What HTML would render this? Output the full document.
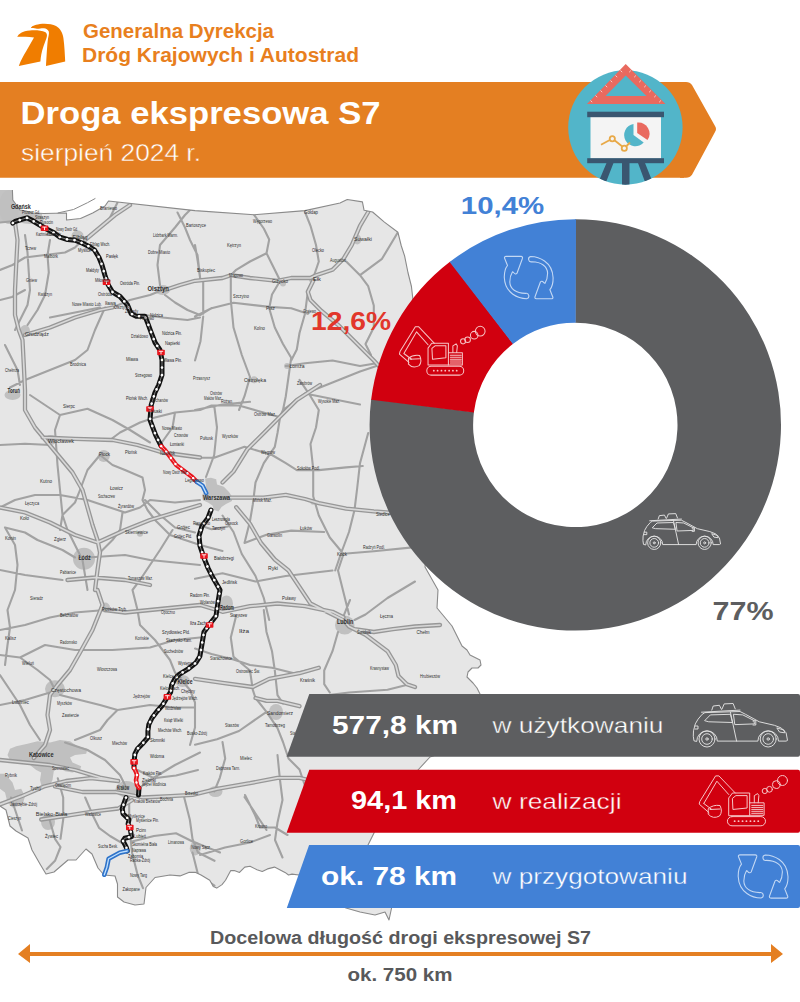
<!DOCTYPE html>
<html><head><meta charset="utf-8">
<style>
html,body{margin:0;padding:0;background:#fff;width:800px;height:1002px;overflow:hidden}
svg{display:block}
text{font-family:"Liberation Sans",sans-serif}
</style></head><body>
<svg width="800" height="1002" viewBox="0 0 800 1002">
<!-- MAP -->
<g id="map">
<defs><clipPath id="lc"><path d="M0,189.9 L12.4,189.9 L12.8,200 L15,203 L20,210 L26,211 L33,213 L44,213.5 L66.5,213 L66.5,220 L80.5,218.5 L92.7,213 L105,206 L108.5,201 L195,210.6 L254,214.75 L305,210.6 L340,203 L347.25,199.5 L362.4,201.9 L364.1,210.3 L372.6,212 L384.4,222.1 L397.9,232.25 L401.25,245.75 L404.6,255.9 L408,272.75 L411.4,286.25 L413,300 L440,425 L425,567 L438,590 L437,608 L452,626 L462,646 L467,650 L470,655 L480,660 L481,665 L478,668 L472,668 L468,672 L467,677 L473,683 L477,688 L480,694 L480,740 L430,757 L418,770 L380,810 L374,833 L368,845 L395,880 L392,906 L389,920 L385,912 L375,915 L360,912 L346,908 L320,890 L299,875 L292,874.1 L288.5,875 L285,872.4 L279.75,869.75 L274.5,867.1 L267.5,868.9 L262.25,871.5 L257,869.75 L250,866.25 L244.75,867.1 L239.5,872.4 L234.25,870.6 L230.75,870.6 L225.5,880.25 L222,884.6 L216.75,888.1 L213.25,886.4 L209.75,880.25 L201,875 L195.75,872.4 L188.75,872.4 L180,875.9 L170,875 L155,877.5 L146,887.5 L144,904 L135,905 L124,902 L117.5,897 L117.5,884 L115,876 L104,875 L98,868 L92,854 L86,849 L76,860 L68,860 L54,872 L46,874 L40,864 L32,850 L28,838 L16,831 L10,826 L6,810 L0,806 Z"/></clipPath></defs><path fill="#e6e6e6" d="M0,189.9 L12.4,189.9 L12.8,200 L15,203 L20,210 L26,211 L33,213 L44,213.5 L66.5,213 L66.5,220 L80.5,218.5 L92.7,213 L105,206 L108.5,201 L195,210.6 L254,214.75 L305,210.6 L340,203 L347.25,199.5 L362.4,201.9 L364.1,210.3 L372.6,212 L384.4,222.1 L397.9,232.25 L401.25,245.75 L404.6,255.9 L408,272.75 L411.4,286.25 L413,300 L440,425 L425,567 L438,590 L437,608 L452,626 L462,646 L467,650 L470,655 L480,660 L481,665 L478,668 L472,668 L468,672 L467,677 L473,683 L477,688 L480,694 L480,740 L430,757 L418,770 L380,810 L374,833 L368,845 L395,880 L392,906 L389,920 L385,912 L375,915 L360,912 L346,908 L320,890 L299,875 L292,874.1 L288.5,875 L285,872.4 L279.75,869.75 L274.5,867.1 L267.5,868.9 L262.25,871.5 L257,869.75 L250,866.25 L244.75,867.1 L239.5,872.4 L234.25,870.6 L230.75,870.6 L225.5,880.25 L222,884.6 L216.75,888.1 L213.25,886.4 L209.75,880.25 L201,875 L195.75,872.4 L188.75,872.4 L180,875.9 L170,875 L155,877.5 L146,887.5 L144,904 L135,905 L124,902 L117.5,897 L117.5,884 L115,876 L104,875 L98,868 L92,854 L86,849 L76,860 L68,860 L54,872 L46,874 L40,864 L32,850 L28,838 L16,831 L10,826 L6,810 L0,806 Z"/>
<g clip-path="url(#lc)"><path fill="#c3c3c3" d="M0,190 L12.4,190 L13,200 L20,210 L33,213 L42,213.5 L42,217 L30,218 L20,220 L12,224 L0,222 Z"/><g fill="#c0c0c0"><ellipse cx="9" cy="207" rx="10" ry="17"/><ellipse cx="30" cy="219" rx="14" ry="5"/><ellipse cx="77.5" cy="235.5" rx="6" ry="5"/><ellipse cx="162.5" cy="290" rx="7.5" ry="5"/><ellipse cx="25" cy="331" rx="5" ry="6"/><ellipse cx="12.5" cy="395" rx="8" ry="5"/><ellipse cx="51" cy="440" rx="6" ry="5"/><ellipse cx="103.75" cy="456" rx="6" ry="6"/><ellipse cx="84" cy="558.75" rx="11" ry="11"/><ellipse cx="140" cy="533.75" rx="3" ry="3"/><ellipse cx="226.5" cy="603.4" rx="6.5" ry="8"/><ellipse cx="313.25" cy="501.75" rx="3" ry="3"/><ellipse cx="105" cy="607.5" rx="5" ry="5"/><ellipse cx="55" cy="688.75" rx="10" ry="8.5"/><ellipse cx="182.5" cy="681" rx="7.5" ry="6"/><ellipse cx="126.5" cy="789.25" rx="11" ry="8.3"/><ellipse cx="48" cy="822" rx="7" ry="8"/><ellipse cx="195.25" cy="848.4" rx="5.5" ry="7"/><ellipse cx="344.75" cy="625" rx="9.75" ry="9.6"/><ellipse cx="276" cy="712" rx="7" ry="8"/><ellipse cx="215.5" cy="791.5" rx="7" ry="5.5"/><ellipse cx="357.25" cy="239.5" rx="4" ry="5"/><ellipse cx="311.9" cy="279.4" rx="3" ry="3"/><ellipse cx="287.1" cy="366" rx="3" ry="3"/><ellipse cx="254.1" cy="379.75" rx="3.5" ry="3.5"/><ellipse cx="283" cy="283.5" rx="3" ry="3"/><path d="M10.0,748.8 L16.2,746.2 L27.5,743.8 L37.5,741.2 L50.0,742.5 L60.0,740.0 L70.0,741.2 L77.5,746.2 L87.5,748.8 L86.2,753.8 L75.0,755.0 L70.0,757.5 L72.5,762.5 L81.2,766.2 L80.0,770.0 L72.5,772.5 L65.0,771.2 L58.8,767.5 L53.8,771.2 L52.5,780.0 L50.0,785.0 L41.2,785.0 L40.0,780.0 L41.2,772.5 L36.2,770.0 L30.0,765.0 L20.0,762.5 L10.0,760.0 L7.5,755.0 Z"/><path d="M0.0,773.8 L5.0,773.8 L12.5,782.5 L15.0,790.0 L21.2,788.8 L25.0,796.2 L22.5,805.0 L12.5,807.5 L7.5,802.5 L5.0,792.5 L0.0,788.8 Z"/><path d="M205.0,478.5 L211.0,477.8 L216.2,479.2 L217.0,484.5 L223.8,486.8 L229.0,492.0 L232.0,496.5 L232.0,501.0 L226.0,504.0 L221.5,507.0 L218.5,511.5 L214.0,510.0 L212.5,505.5 L208.0,502.5 L202.8,500.2 L202.0,495.0 L206.5,489.8 L205.8,484.5 Z"/></g>
<g fill="none" stroke-linejoin="round" stroke-linecap="round">
<path stroke="#a2a2a2" stroke-width="2.1" d="M0.0,222.5 L12.5,221.2 M25.0,235.0 L27.5,252.5 L28.8,272.5 L30.0,290.0 L27.5,305.0 L20.0,320.0 L15.0,330.0 M50.0,240.0 L47.5,255.0 L48.8,272.5 L45.0,295.0 L37.5,310.0 L27.5,325.0 M0.0,270.0 L12.5,265.0 L25.0,257.5 L45.0,255.0 L65.0,252.5 L75.0,247.5 L80.0,242.5 M107.5,222.5 L112.5,212.5 L117.5,202.5 M112.5,307.5 L130.0,300.0 L150.0,295.0 L162.5,290.0 M50.0,317.5 L75.0,312.5 L100.0,307.5 M105.0,307.5 L95.0,330.0 L87.5,350.0 L75.0,360.0 L50.0,370.0 L25.0,380.0 L10.0,387.5 M160.0,285.0 L157.5,265.0 L160.0,245.0 L175.0,227.5 L185.0,215.0 L195.0,205.0 M177.5,212.5 L185.0,227.5 L190.0,240.0 L197.5,255.0 L200.5,280.8 M165.0,295.0 L175.0,302.5 L187.5,310.0 L200.0,315.0 L211.5,308.2 L233.5,302.8 L269.2,306.9 L291.2,308.2 L307.8,313.8 M145.0,315.0 L162.5,317.5 L187.5,320.0 L200.0,317.5 M5.0,345.0 L12.5,360.0 L17.5,370.0 L20.0,385.0 M0.0,300.0 L12.0,297.0 L25.0,290.0 M305.0,212.0 L310.5,225.8 L316.0,245.0 L318.8,261.5 L313.2,278.0 M254.1,214.8 L263.8,228.5 L269.2,239.5 L266.5,253.2 L250.0,261.5 L236.2,269.8 L230.8,275.2 M266.5,253.2 L272.0,264.2 L280.2,280.8 L272.0,294.5 L269.2,308.2 L274.8,327.5 L283.0,344.0 L291.2,357.8 L288.5,377.0 L285.8,396.2 L283.0,410.0 L280.2,416.5 L277.5,433.0 L274.8,446.8 L263.8,463.2 L255.5,482.5 L252.8,504.5 L250.0,521.0 L244.5,543.0 M230.8,275.2 L230.8,300.0 L233.5,327.5 L241.8,355.0 L250.0,377.0 L244.5,396.2 L239.0,410.0 M195.0,316.5 L211.5,308.2 M307.8,291.8 L305.0,313.8 L299.5,333.0 L296.8,349.5 L291.2,360.5 M346.2,261.5 L360.0,275.2 L368.2,286.2 L373.8,305.5 L373.8,327.5 L365.5,344.0 L371.0,355.0 M360.0,275.2 L382.0,258.8 L398.5,231.2 M285.8,366.0 L305.0,363.2 L332.5,360.5 L360.0,366.0 L376.5,363.2 M283.0,410.0 L305.0,393.5 L332.5,382.5 L360.0,371.5 L376.5,366.0 M299.5,379.8 L310.5,396.2 L318.8,410.0 L316.0,427.5 L310.5,444.0 L313.2,468.8 L313.2,496.2 L318.8,515.5 L329.8,537.5 L343.5,554.0 L338.0,570.5 L343.5,592.5 L349.0,614.5 M305.0,393.5 L332.5,399.0 L360.0,404.5 M203.2,316.5 L200.5,341.2 L195.0,360.5 M195.0,410.0 L222.5,404.5 L250.0,401.8 M203.2,280.8 L203.2,313.8 M195.0,245.0 L197.8,261.5 L200.5,280.8 M0.0,445.0 L25.0,443.8 L50.0,445.0 M30.0,395.0 L60.0,415.0 L87.5,408.8 L112.5,420.0 L130.0,430.0 L150.0,442.5 M60.0,415.0 L55.0,430.0 L57.5,465.0 L60.0,490.0 L62.5,515.0 L67.5,530.0 L75.0,545.0 L82.5,560.0 L87.5,590.0 M100.0,455.0 L112.5,465.0 L125.0,470.0 L142.5,477.5 L145.0,490.0 L142.5,500.0 L147.5,510.0 L155.0,520.0 L170.0,535.0 L200.0,545.0 L222.5,551.0 M100.0,455.0 L87.5,470.0 L80.0,490.0 L75.0,502.5 L62.5,515.0 L60.0,530.0 M110.0,440.0 L120.0,432.5 L140.0,422.5 L155.0,417.5 L175.0,412.5 L200.0,410.0 L211.5,405.5 L239.0,405.5 L277.5,416.5 M175.0,412.5 L172.5,427.5 L160.0,445.0 M0.0,507.5 L15.0,500.0 L35.0,495.0 L60.0,495.0 L87.5,500.0 L125.0,512.5 L140.0,507.5 L150.0,500.0 L175.0,502.5 L200.0,500.0 M5.0,527.5 L15.0,545.0 L17.5,565.0 L15.0,590.0 L7.5,610.0 L10.0,627.5 L7.5,645.0 L5.0,665.0 M5.0,527.5 L25.0,532.5 L37.5,540.0 L62.5,550.0 L75.0,557.5 M87.5,557.5 L125.0,555.0 L150.0,560.0 L175.0,562.5 L200.0,565.0 M122.5,512.5 L120.0,530.0 L112.5,540.0 L100.0,552.5 M172.5,530.0 L160.0,550.0 L150.0,565.0 L140.0,580.0 L132.5,590.0 L137.5,610.0 L140.0,625.0 L155.0,640.0 L170.0,660.0 L175.0,672.5 L190.0,690.0 L195.0,702.5 L195.0,727.5 L190.0,745.0 M0.0,570.0 L25.0,575.0 L62.5,580.0 M145.0,500.0 L160.0,515.0 L175.0,527.5 L195.0,532.5 M0.0,630.0 L25.0,625.0 L50.0,617.5 L75.0,612.5 L105.0,610.0 M0.0,655.0 L20.0,657.5 L45.0,645.0 L75.0,650.0 L112.5,650.0 L150.0,647.5 L175.0,640.0 L200.0,637.5 M20.0,657.5 L37.5,670.0 L50.0,680.0 L55.0,690.0 M0.0,675.0 L10.0,690.0 L20.0,705.0 L30.0,725.0 L40.0,740.0 M0.0,705.0 L25.0,700.0 L50.0,692.5 M60.0,695.0 L100.0,705.0 L117.5,710.0 L150.0,705.0 L175.0,707.5 L195.0,707.5 M117.5,710.0 L107.5,720.0 L100.0,730.0 L87.5,735.0 L75.0,740.0 M65.0,742.5 L87.5,750.0 L105.0,760.0 L120.0,775.0 L125.0,785.0 M200.0,752.5 L175.0,765.0 L150.0,780.0 L140.0,787.5 M195.0,457.8 L214.2,457.8 L244.5,446.8 L272.0,455.0 L285.8,463.2 L296.8,470.1 L318.8,470.1 L346.2,467.4 L362.8,466.0 M214.2,405.5 L217.0,427.5 L214.2,455.0 L206.0,477.0 M368.2,433.0 L360.0,463.2 L357.2,488.0 L354.5,510.0 L349.0,532.0 L340.8,554.0 L335.2,570.5 M244.5,543.0 L266.5,534.8 L291.2,530.6 L324.2,532.0 M340.8,554.0 L373.8,551.2 L415.0,547.1 M195.0,578.8 L222.5,573.2 L255.5,581.5 L285.8,576.0 L332.5,570.5 M222.5,515.5 L233.5,532.0 L241.8,554.0 L255.5,576.0 L263.8,598.0 L269.2,620.0 M415.0,581.5 L387.5,598.0 L365.5,614.5 L354.5,620.0 M195.0,523.8 L211.5,529.2 L228.0,526.5 M338.0,632.0 L332.5,651.2 L324.2,670.5 L324.2,684.2 L329.8,692.5 M263.8,610.0 L266.5,632.0 L272.0,651.2 L274.8,670.5 L277.5,695.2 L283.0,703.5 M236.2,615.5 L230.8,637.5 L233.5,656.8 L250.0,670.5 L252.8,689.8 L255.5,698.0 L266.5,711.8 M195.0,648.5 L211.5,654.0 L233.5,659.5 L250.0,665.0 L272.0,667.8 L294.0,673.2 L318.8,667.8 M266.5,711.8 L277.5,728.2 L283.0,742.0 L288.5,758.5 L299.5,769.5 L305.0,786.0 M266.5,711.8 L239.0,731.0 L217.0,739.2 L195.0,744.8 M222.5,742.0 L225.2,758.5 L219.8,777.8 L214.2,791.5 M244.5,797.0 L255.5,813.5 L266.5,830.0 M327.0,695.2 L349.0,692.5 L387.5,689.8 L409.5,684.2 M343.5,616.2 L350.0,600.0 M11.0,797.5 L16.5,814.0 L22.0,830.5 M49.5,819.5 L55.0,838.8 L60.5,847.0 L55.0,860.8 L46.8,869.0 M85.2,797.5 L93.5,816.8 L99.0,827.8 L110.0,836.0 L123.8,844.2 M129.2,797.5 L129.2,825.0 L132.0,852.5 L137.5,874.5 L143.0,888.2 M132.0,841.5 L154.0,836.0 L176.0,833.2 L192.5,841.5 L220.0,852.5 M184.2,797.5 L189.8,819.5 L192.5,838.8 L198.0,852.5 L214.5,860.8 M192.5,852.5 L198.0,874.5 L214.5,885.5 M137.5,770.0 L154.0,778.2 L176.0,775.5 L198.0,770.0 M57.8,778.2 L63.2,797.5 L63.2,819.5 L60.5,838.8 M245.0,795.0 L255.0,815.0 L260.0,827.5 L275.0,827.5 L287.5,835.0 M200.0,855.0 L225.0,847.5 L250.0,842.5 L270.0,835.0 M277.5,755.0 L280.0,780.0 L282.5,800.0 L277.5,822.5 L275.0,840.0 L282.5,857.5"/>
<path stroke="#979797" stroke-width="4.3" d="M15.0,222.5 L17.5,240.0 L16.2,265.0 L15.0,290.0 L15.0,315.0 L18.8,330.0 L22.5,340.0 L23.8,365.0 L25.0,390.0 L25.0,410.0 L35.0,427.5 L47.5,442.5 L60.0,457.5 L72.5,472.5 L82.5,490.0 L87.5,507.5 L92.5,525.0 L97.5,540.0 L100.0,552.5 L97.5,570.0 L95.0,590.0 L97.5,590.0 L102.5,605.0 L92.5,630.0 L80.0,652.5 L70.0,670.0 L57.5,685.0 L50.0,695.0 L47.5,715.0 L50.0,730.0 L45.0,745.0 L33.8,758.0 M85.0,240.0 L100.0,227.5 L115.0,215.0 L130.0,205.0 M25.0,335.0 L50.0,327.5 L75.0,317.5 L100.0,310.0 L112.5,307.5 M165.0,290.0 L180.0,285.0 L195.0,280.8 L222.5,278.0 L230.8,275.2 L250.0,278.0 L277.5,280.8 L291.2,278.0 L310.5,278.0 L316.0,275.2 M316.0,275.2 L332.5,269.8 L343.5,258.8 L351.8,245.0 L360.0,225.8 L368.2,212.0 M313.2,280.8 L307.8,291.8 L310.5,300.0 L321.5,311.0 L338.0,324.8 L351.8,338.5 L365.5,352.2 L373.8,360.5 L390.0,378.0 M0.0,507.5 L25.0,512.5 L50.0,522.5 L75.0,535.0 L97.5,542.5 L125.0,530.0 L150.0,520.0 L175.0,512.5 L200.0,505.0 M230.8,497.6 L263.8,497.6 L285.8,494.9 L305.0,499.0 L318.8,503.1 L346.2,508.6 L373.8,511.4 L393.0,512.8 M42.5,437.5 L75.0,438.8 L112.5,440.0 L137.5,445.0 L162.5,452.5 L200.0,457.5 M222.5,482.5 L233.5,471.5 L247.2,449.5 L263.8,433.0 L280.2,416.5 L296.8,400.0 L320.0,385.0 M236.2,507.2 L250.0,523.8 L261.0,543.0 L274.8,559.5 L288.5,570.5 L299.5,587.0 L310.5,603.5 L327.0,611.8 L343.5,620.0 L349.0,626.5 L365.5,634.8 L387.5,651.2 L395.8,665.0 L398.5,676.0 L406.8,684.2 L415.0,687.0 M354.5,629.2 L373.8,632.0 L393.0,629.2 L415.0,626.5 L440.0,625.0 M222.5,611.8 L250.0,606.2 L277.5,603.5 L305.0,606.2 L332.5,611.8 L343.5,617.2 M105.0,610.0 L125.0,612.5 L150.0,610.0 L175.0,607.5 L200.0,605.0 L222.5,611.8 M195.0,678.8 L222.5,682.9 L252.8,687.0 L269.2,678.8 L299.5,673.2 L318.8,667.8 M255.5,698.0 L266.5,700.8 L277.5,700.8 L299.5,706.2 M0.0,760.0 L25.0,762.5 L50.0,765.0 L75.0,770.0 L100.0,777.5 L118.2,781.0 M55.0,786.5 L82.5,792.0 L115.5,792.0 L143.0,797.5 L170.5,796.1 L192.5,794.8 L217.0,788.8 L250.0,783.2 L277.5,777.8 L299.5,777.8 L310.5,780.5 M41.2,819.5 L68.8,815.4 L96.2,811.2 L118.2,808.5 L132.0,800.2 M67.5,580.0 L95.0,577.5 L125.0,580.0 L150.0,585.0 M0.0,804.4 L22.0,796.1 L44.0,786.5 L66.0,781.0 L90.8,778.2 L118.2,781.0"/>
<path stroke="#d8d8d8" stroke-width="1.7" d="M15.0,222.5 L17.5,240.0 L16.2,265.0 L15.0,290.0 L15.0,315.0 L18.8,330.0 L22.5,340.0 L23.8,365.0 L25.0,390.0 L25.0,410.0 L35.0,427.5 L47.5,442.5 L60.0,457.5 L72.5,472.5 L82.5,490.0 L87.5,507.5 L92.5,525.0 L97.5,540.0 L100.0,552.5 L97.5,570.0 L95.0,590.0 L97.5,590.0 L102.5,605.0 L92.5,630.0 L80.0,652.5 L70.0,670.0 L57.5,685.0 L50.0,695.0 L47.5,715.0 L50.0,730.0 L45.0,745.0 L33.8,758.0 M85.0,240.0 L100.0,227.5 L115.0,215.0 L130.0,205.0 M25.0,335.0 L50.0,327.5 L75.0,317.5 L100.0,310.0 L112.5,307.5 M165.0,290.0 L180.0,285.0 L195.0,280.8 L222.5,278.0 L230.8,275.2 L250.0,278.0 L277.5,280.8 L291.2,278.0 L310.5,278.0 L316.0,275.2 M316.0,275.2 L332.5,269.8 L343.5,258.8 L351.8,245.0 L360.0,225.8 L368.2,212.0 M313.2,280.8 L307.8,291.8 L310.5,300.0 L321.5,311.0 L338.0,324.8 L351.8,338.5 L365.5,352.2 L373.8,360.5 L390.0,378.0 M0.0,507.5 L25.0,512.5 L50.0,522.5 L75.0,535.0 L97.5,542.5 L125.0,530.0 L150.0,520.0 L175.0,512.5 L200.0,505.0 M230.8,497.6 L263.8,497.6 L285.8,494.9 L305.0,499.0 L318.8,503.1 L346.2,508.6 L373.8,511.4 L393.0,512.8 M42.5,437.5 L75.0,438.8 L112.5,440.0 L137.5,445.0 L162.5,452.5 L200.0,457.5 M222.5,482.5 L233.5,471.5 L247.2,449.5 L263.8,433.0 L280.2,416.5 L296.8,400.0 L320.0,385.0 M236.2,507.2 L250.0,523.8 L261.0,543.0 L274.8,559.5 L288.5,570.5 L299.5,587.0 L310.5,603.5 L327.0,611.8 L343.5,620.0 L349.0,626.5 L365.5,634.8 L387.5,651.2 L395.8,665.0 L398.5,676.0 L406.8,684.2 L415.0,687.0 M354.5,629.2 L373.8,632.0 L393.0,629.2 L415.0,626.5 L440.0,625.0 M222.5,611.8 L250.0,606.2 L277.5,603.5 L305.0,606.2 L332.5,611.8 L343.5,617.2 M105.0,610.0 L125.0,612.5 L150.0,610.0 L175.0,607.5 L200.0,605.0 L222.5,611.8 M195.0,678.8 L222.5,682.9 L252.8,687.0 L269.2,678.8 L299.5,673.2 L318.8,667.8 M255.5,698.0 L266.5,700.8 L277.5,700.8 L299.5,706.2 M0.0,760.0 L25.0,762.5 L50.0,765.0 L75.0,770.0 L100.0,777.5 L118.2,781.0 M55.0,786.5 L82.5,792.0 L115.5,792.0 L143.0,797.5 L170.5,796.1 L192.5,794.8 L217.0,788.8 L250.0,783.2 L277.5,777.8 L299.5,777.8 L310.5,780.5 M41.2,819.5 L68.8,815.4 L96.2,811.2 L118.2,808.5 L132.0,800.2 M67.5,580.0 L95.0,577.5 L125.0,580.0 L150.0,585.0 M0.0,804.4 L22.0,796.1 L44.0,786.5 L66.0,781.0 L90.8,778.2 L118.2,781.0"/>
</g></g>
<path fill="none" stroke="#8a8a8a" stroke-width="1.1" stroke-linejoin="round" d="M12.4,189.9 L12.8,200 L15,203 L20,210 L26,211 L33,213 L44,213.5 L66.5,213 L66.5,220 L80.5,218.5 L92.7,213 L105,206 L108.5,201 L195,210.6 L254,214.75 L305,210.6 L340,203 L347.25,199.5 L362.4,201.9 L364.1,210.3 L372.6,212 L384.4,222.1 L397.9,232.25 L401.25,245.75 L404.6,255.9 L408,272.75 L411.4,286.25 L413,300 L440,425 L425,567 L438,590 L437,608 L452,626 L462,646 L467,650 L470,655 L480,660 L481,665 L478,668 L472,668 L468,672 L467,677 L473,683 L477,688 L480,694 L480,740 L430,757 L418,770 L380,810 L374,833 L368,845 L395,880 L392,906 L389,920 L385,912 L375,915 L360,912 L346,908 L320,890 L299,875 L292,874.1 L288.5,875 L285,872.4 L279.75,869.75 L274.5,867.1 L267.5,868.9 L262.25,871.5 L257,869.75 L250,866.25 L244.75,867.1 L239.5,872.4 L234.25,870.6 L230.75,870.6 L225.5,880.25 L222,884.6 L216.75,888.1 L213.25,886.4 L209.75,880.25 L201,875 L195.75,872.4 L188.75,872.4 L180,875.9 L170,875 L155,877.5 L146,887.5 L144,904 L135,905 L124,902 L117.5,897 L117.5,884 L115,876 L104,875 L98,868 L92,854 L86,849 L76,860 L68,860 L54,872 L46,874 L40,864 L32,850 L28,838 L16,831 L10,826 L6,810 L0,806"/><path fill="none" stroke="#8a8a8a" stroke-width="1" d="M57.7,213 L73.5,209.5 L87.5,202.7 L95.4,198.4"/>
<g fill="none" stroke-linejoin="round" stroke-linecap="round">
<path stroke="#111" stroke-width="5" d="M12.8,223.0 L15.0,221.5 L22.5,219.2 L27.0,217.8 L31.5,220.0 L39.0,224.5 L46.5,229.0 L54.0,232.8 L60.0,237.2 L67.5,239.5 L75.0,240.2 L82.5,243.2 L90.0,247.0 L94.5,250.0 L99.0,257.5 L102.0,265.0 L105.0,275.5 L108.0,284.5 L112.5,292.0 L120.0,296.5 L127.5,305.0 L131.2,313.7 L136.2,316.2 L145.0,316.2 L147.5,322.5 L151.2,332.5 L155.0,342.5 L160.0,350.0 L162.0,360.0 L162.0,375.0 L158.7,385.0 L155.0,392.5 L151.2,405.0 L150.0,420.0 L155.6,435.0 L161.2,446.2 M211.0,510.0 L208.0,518.0 L202.0,526.0 L199.0,536.0 L200.0,546.0 L204.0,558.0 L208.0,568.0 L212.0,576.0 L220.0,590.0 L218.0,602.0 L216.0,616.0 L209.0,625.0 L204.0,632.0 L202.0,644.0 L199.9,656.2 L195.9,662.8 L187.8,669.2 L179.6,674.1 L174.8,679.0 L171.5,685.5 L170.7,692.0 L167.4,696.9 L162.6,705.0 L156.9,711.5 L152.0,718.0 L148.8,724.5 L147.9,731.0 L147.9,737.5 L142.2,744.0 L137.4,748.9 L134.9,753.8 L134.1,761.9 L134.0,768.0 M139.0,788.0 L138.5,795.0 M126.0,797.5 L123.9,803.5 L122.2,808.6 L123.0,813.7 L126.4,817.1 L129.0,819.6 L128.1,823.9 L129.8,827.3 L130.7,831.5 L131.5,836.6 L124.7,838.3 L123.0,840.8 L124.7,844.2 L126.4,847.6 L127.3,851.0"/>
<path stroke="#8a8a8a" stroke-width="0.9" d="M12.8,223.0 L15.0,221.5 L22.5,219.2 L27.0,217.8 L31.5,220.0 L39.0,224.5 L46.5,229.0 L54.0,232.8 L60.0,237.2 L67.5,239.5 L75.0,240.2 L82.5,243.2 L90.0,247.0 L94.5,250.0 L99.0,257.5 L102.0,265.0 L105.0,275.5 L108.0,284.5 L112.5,292.0 L120.0,296.5 L127.5,305.0 L131.2,313.7 L136.2,316.2 L145.0,316.2 L147.5,322.5 L151.2,332.5 L155.0,342.5 L160.0,350.0 L162.0,360.0 L162.0,375.0 L158.7,385.0 L155.0,392.5 L151.2,405.0 L150.0,420.0 L155.6,435.0 L161.2,446.2 M211.0,510.0 L208.0,518.0 L202.0,526.0 L199.0,536.0 L200.0,546.0 L204.0,558.0 L208.0,568.0 L212.0,576.0 L220.0,590.0 L218.0,602.0 L216.0,616.0 L209.0,625.0 L204.0,632.0 L202.0,644.0 L199.9,656.2 L195.9,662.8 L187.8,669.2 L179.6,674.1 L174.8,679.0 L171.5,685.5 L170.7,692.0 L167.4,696.9 L162.6,705.0 L156.9,711.5 L152.0,718.0 L148.8,724.5 L147.9,731.0 L147.9,737.5 L142.2,744.0 L137.4,748.9 L134.9,753.8 L134.1,761.9 L134.0,768.0 M139.0,788.0 L138.5,795.0 M126.0,797.5 L123.9,803.5 L122.2,808.6 L123.0,813.7 L126.4,817.1 L129.0,819.6 L128.1,823.9 L129.8,827.3 L130.7,831.5 L131.5,836.6 L124.7,838.3 L123.0,840.8 L124.7,844.2 L126.4,847.6 L127.3,851.0"/>
<path stroke="#fff" stroke-width="2.6" stroke-dasharray="0.1 7.5" d="M12.8,223.0 L15.0,221.5 L22.5,219.2 L27.0,217.8 L31.5,220.0 L39.0,224.5 L46.5,229.0 L54.0,232.8 L60.0,237.2 L67.5,239.5 L75.0,240.2 L82.5,243.2 L90.0,247.0 L94.5,250.0 L99.0,257.5 L102.0,265.0 L105.0,275.5 L108.0,284.5 L112.5,292.0 L120.0,296.5 L127.5,305.0 L131.2,313.7 L136.2,316.2 L145.0,316.2 L147.5,322.5 L151.2,332.5 L155.0,342.5 L160.0,350.0 L162.0,360.0 L162.0,375.0 L158.7,385.0 L155.0,392.5 L151.2,405.0 L150.0,420.0 L155.6,435.0 L161.2,446.2 M211.0,510.0 L208.0,518.0 L202.0,526.0 L199.0,536.0 L200.0,546.0 L204.0,558.0 L208.0,568.0 L212.0,576.0 L220.0,590.0 L218.0,602.0 L216.0,616.0 L209.0,625.0 L204.0,632.0 L202.0,644.0 L199.9,656.2 L195.9,662.8 L187.8,669.2 L179.6,674.1 L174.8,679.0 L171.5,685.5 L170.7,692.0 L167.4,696.9 L162.6,705.0 L156.9,711.5 L152.0,718.0 L148.8,724.5 L147.9,731.0 L147.9,737.5 L142.2,744.0 L137.4,748.9 L134.9,753.8 L134.1,761.9 L134.0,768.0 M139.0,788.0 L138.5,795.0 M126.0,797.5 L123.9,803.5 L122.2,808.6 L123.0,813.7 L126.4,817.1 L129.0,819.6 L128.1,823.9 L129.8,827.3 L130.7,831.5 L131.5,836.6 L124.7,838.3 L123.0,840.8 L124.7,844.2 L126.4,847.6 L127.3,851.0"/>
<path stroke="#e8141c" stroke-width="4.5" d="M161.2,446.2 L165.0,450.0 L176.2,465.0 L191.2,476.2 L196.9,481.9 M134.0,768.0 L136.0,772.0 L137.0,775.0 L136.0,780.0 L137.0,785.0 L139.0,788.0"/>
<path stroke="#f7a0a0" stroke-width="0.9" d="M161.2,446.2 L165.0,450.0 L176.2,465.0 L191.2,476.2 L196.9,481.9 M134.0,768.0 L136.0,772.0 L137.0,775.0 L136.0,780.0 L137.0,785.0 L139.0,788.0"/>
<path stroke="#fff" stroke-width="2.4" stroke-dasharray="0.1 7.5" d="M161.2,446.2 L165.0,450.0 L176.2,465.0 L191.2,476.2 L196.9,481.9 M134.0,768.0 L136.0,772.0 L137.0,775.0 L136.0,780.0 L137.0,785.0 L139.0,788.0"/>
<path stroke="#2f73c9" stroke-width="4.5" d="M196.9,481.9 L202.5,485.6 L206.2,493.1 M127.3,851.0 L119.6,852.7 L108.6,858.7 L106.9,867.2 L104.3,874.8"/>
<path stroke="#bfe0ff" stroke-width="1.3" d="M196.9,481.9 L202.5,485.6 L206.2,493.1 M127.3,851.0 L119.6,852.7 L108.6,858.7 L106.9,867.2 L104.3,874.8"/>
</g>
<g fill="#e8141c"><rect x="40.7" y="225.5" width="7.6" height="5.6" rx="0.8"/><path d="M42.3,227.10000000000002 h4.4 M44.5,227.10000000000002 v3" stroke="#fff" stroke-width="0.9" fill="none"/><rect x="102.7" y="279.5" width="7.6" height="5.6" rx="0.8"/><path d="M104.3,281.1 h4.4 M106.5,281.1 v3" stroke="#fff" stroke-width="0.9" fill="none"/><rect x="157.2" y="349.7" width="7.6" height="5.6" rx="0.8"/><path d="M158.8,351.3 h4.4 M161,351.3 v3" stroke="#fff" stroke-width="0.9" fill="none"/><rect x="146.2" y="406.2" width="7.6" height="5.6" rx="0.8"/><path d="M147.8,407.8 h4.4 M150,407.8 v3" stroke="#fff" stroke-width="0.9" fill="none"/><rect x="200.2" y="553.2" width="7.6" height="5.6" rx="0.8"/><path d="M201.8,554.8 h4.4 M204,554.8 v3" stroke="#fff" stroke-width="0.9" fill="none"/><rect x="205.79999999999998" y="622.2" width="7.6" height="5.6" rx="0.8"/><path d="M207.4,623.8 h4.4 M209.6,623.8 v3" stroke="#fff" stroke-width="0.9" fill="none"/><rect x="163.6" y="694.1" width="7.6" height="5.6" rx="0.8"/><path d="M165.20000000000002,695.6999999999999 h4.4 M167.4,695.6999999999999 v3" stroke="#fff" stroke-width="0.9" fill="none"/><rect x="130.29999999999998" y="759.1" width="7.6" height="5.6" rx="0.8"/><path d="M131.9,760.6999999999999 h4.4 M134.1,760.6999999999999 v3" stroke="#fff" stroke-width="0.9" fill="none"/><rect x="126.00000000000001" y="824.7" width="7.6" height="5.6" rx="0.8"/><path d="M127.60000000000001,826.3 h4.4 M129.8,826.3 v3" stroke="#fff" stroke-width="0.9" fill="none"/></g>
<g fill="#2e2e2e" font-family="Liberation Sans, sans-serif">
<text x="10.9" y="208.6" font-size="7" font-weight="bold" textLength="19.9" lengthAdjust="spacingAndGlyphs">Gdańsk</text>
<text x="72.6" y="239" font-size="6" textLength="15" lengthAdjust="spacingAndGlyphs">Elbląg</text>
<text x="147.5" y="290.5" font-size="6.5" font-weight="bold" textLength="21.25" lengthAdjust="spacingAndGlyphs">Olsztyn</text>
<text x="25" y="335.5" font-size="6" textLength="23.75" lengthAdjust="spacingAndGlyphs">Grudziądz</text>
<text x="7.5" y="393" font-size="6.5" font-weight="bold" textLength="12.5" lengthAdjust="spacingAndGlyphs">Toruń</text>
<text x="48" y="442.6" font-size="6" textLength="26" lengthAdjust="spacingAndGlyphs">Włocławek</text>
<text x="99" y="456.4" font-size="6" textLength="11" lengthAdjust="spacingAndGlyphs">Płock</text>
<text x="203" y="500" font-size="7" font-weight="bold" textLength="27" lengthAdjust="spacingAndGlyphs">Warszawa</text>
<text x="78.4" y="559.5" font-size="6.5" font-weight="bold" textLength="12.35" lengthAdjust="spacingAndGlyphs">Łódź</text>
<text x="220" y="610.4" font-size="6.5" font-weight="bold" textLength="14" lengthAdjust="spacingAndGlyphs">Radom</text>
<text x="177.4" y="683.7" font-size="6.5" font-weight="bold" textLength="15.1" lengthAdjust="spacingAndGlyphs">Kielce</text>
<text x="50.9" y="691.7" font-size="6" textLength="30.1" lengthAdjust="spacingAndGlyphs">Częstochowa</text>
<text x="28.9" y="757" font-size="6.5" font-weight="bold" textLength="24.7" lengthAdjust="spacingAndGlyphs">Katowice</text>
<text x="116.9" y="790.4" font-size="6.5" font-weight="bold" textLength="12.35" lengthAdjust="spacingAndGlyphs">Kraków</text>
<text x="35.75" y="815.7" font-size="6" textLength="31.65" lengthAdjust="spacingAndGlyphs">Bielsko-Biała</text>
<text x="191.25" y="848.75" font-size="6" textLength="18.75" lengthAdjust="spacingAndGlyphs">Nowy Sącz</text>
<text x="337" y="624.4" font-size="6.5" font-weight="bold" textLength="16.25" lengthAdjust="spacingAndGlyphs">Lublin</text>
<text x="244" y="382" font-size="6" textLength="22" lengthAdjust="spacingAndGlyphs">Ostrołęka</text>
<text x="289.4" y="367.8" font-size="6" textLength="15.1" lengthAdjust="spacingAndGlyphs">Łomża</text>
<text x="354" y="241.25" font-size="5.5" textLength="17.9" lengthAdjust="spacingAndGlyphs">Suwałki</text>
<text x="376" y="515.5" font-size="6" textLength="13.75" lengthAdjust="spacingAndGlyphs">Siedlce</text>
<text x="267" y="715.4" font-size="5.5" textLength="26" lengthAdjust="spacingAndGlyphs">Sandomierz</text>
<text x="416.6" y="634" font-size="5.5" textLength="13" lengthAdjust="spacingAndGlyphs">Chełm</text>
<text x="122.5" y="891.25" font-size="5" textLength="17.5" lengthAdjust="spacingAndGlyphs">Zakopane</text>
<text x="313" y="281" font-size="5" textLength="8" lengthAdjust="spacingAndGlyphs">Ełk</text>
<text x="272" y="283" font-size="5" textLength="16" lengthAdjust="spacingAndGlyphs">Giżycko</text>
<text x="229" y="277" font-size="5" textLength="14" lengthAdjust="spacingAndGlyphs">Mrągowo</text>
<text x="266" y="310" font-size="5" textLength="9" lengthAdjust="spacingAndGlyphs">Pisz</text>
<text x="197" y="272" font-size="5" textLength="18" lengthAdjust="spacingAndGlyphs">Biskupiec</text>
<text x="148" y="254" font-size="5" textLength="22" lengthAdjust="spacingAndGlyphs">Dobre Miasto</text>
<text x="153" y="237" font-size="5" textLength="25" lengthAdjust="spacingAndGlyphs">Lidzbark Warm.</text>
<text x="186" y="227" font-size="5" textLength="20" lengthAdjust="spacingAndGlyphs">Bartoszyce</text>
<text x="100" y="210" font-size="5" textLength="17" lengthAdjust="spacingAndGlyphs">Braniewo</text>
<text x="227" y="247" font-size="5" textLength="14" lengthAdjust="spacingAndGlyphs">Kętrzyn</text>
<text x="253" y="223" font-size="5" textLength="19" lengthAdjust="spacingAndGlyphs">Węgorzewo</text>
<text x="304" y="214" font-size="5" textLength="14" lengthAdjust="spacingAndGlyphs">Gołdap</text>
<text x="312" y="252" font-size="5" textLength="12" lengthAdjust="spacingAndGlyphs">Olecko</text>
<text x="254" y="330" font-size="5" textLength="11" lengthAdjust="spacingAndGlyphs">Kolno</text>
<text x="303" y="313" font-size="5" textLength="13" lengthAdjust="spacingAndGlyphs">Grajewo</text>
<text x="233" y="298" font-size="5" textLength="16" lengthAdjust="spacingAndGlyphs">Szczytno</text>
<text x="126" y="361" font-size="5" textLength="12" lengthAdjust="spacingAndGlyphs">Mława</text>
<text x="131" y="338" font-size="5" textLength="17" lengthAdjust="spacingAndGlyphs">Działdowo</text>
<text x="150" y="317" font-size="5" textLength="13" lengthAdjust="spacingAndGlyphs">Nidzica</text>
<text x="105" y="305" font-size="5" textLength="11" lengthAdjust="spacingAndGlyphs">Iława</text>
<text x="98" y="296" font-size="5" textLength="14" lengthAdjust="spacingAndGlyphs">Ostróda</text>
<text x="70" y="366" font-size="5" textLength="16" lengthAdjust="spacingAndGlyphs">Brodnica</text>
<text x="44" y="258" font-size="5" textLength="14" lengthAdjust="spacingAndGlyphs">Malbork</text>
<text x="25" y="250" font-size="5" textLength="11" lengthAdjust="spacingAndGlyphs">Tczew</text>
<text x="38" y="296" font-size="5" textLength="14" lengthAdjust="spacingAndGlyphs">Kwidzyn</text>
<text x="26" y="282" font-size="5" textLength="11" lengthAdjust="spacingAndGlyphs">Gniew</text>
<text x="5" y="372" font-size="5" textLength="14" lengthAdjust="spacingAndGlyphs">Chełmża</text>
<text x="72" y="306" font-size="5" textLength="30" lengthAdjust="spacingAndGlyphs">Nowe Miasto Lub.</text>
<text x="63" y="408" font-size="5" textLength="12" lengthAdjust="spacingAndGlyphs">Sierpc</text>
<text x="150" y="402" font-size="5" textLength="18" lengthAdjust="spacingAndGlyphs">Ciechanów</text>
<text x="204" y="400" font-size="5" textLength="18" lengthAdjust="spacingAndGlyphs">Maków Maz.</text>
<text x="193" y="380" font-size="5" textLength="17" lengthAdjust="spacingAndGlyphs">Przasnysz</text>
<text x="221" y="403" font-size="5" textLength="11" lengthAdjust="spacingAndGlyphs">Różan</text>
<text x="254" y="416" font-size="5" textLength="22" lengthAdjust="spacingAndGlyphs">Ostrów Maz.</text>
<text x="222" y="438" font-size="5" textLength="16" lengthAdjust="spacingAndGlyphs">Wyszków</text>
<text x="261" y="454" font-size="5" textLength="14" lengthAdjust="spacingAndGlyphs">Węgrów</text>
<text x="297" y="470" font-size="5" textLength="23" lengthAdjust="spacingAndGlyphs">Sokołów Podl.</text>
<text x="253" y="502" font-size="5" textLength="19" lengthAdjust="spacingAndGlyphs">Mińsk Maz.</text>
<text x="267" y="537" font-size="5" textLength="15" lengthAdjust="spacingAndGlyphs">Garwolin</text>
<text x="300" y="530" font-size="5" textLength="12" lengthAdjust="spacingAndGlyphs">Łuków</text>
<text x="268" y="570" font-size="5" textLength="10" lengthAdjust="spacingAndGlyphs">Ryki</text>
<text x="337" y="556" font-size="5" textLength="10" lengthAdjust="spacingAndGlyphs">Kock</text>
<text x="363" y="549" font-size="5" textLength="22" lengthAdjust="spacingAndGlyphs">Radzyń Podl.</text>
<text x="318" y="403" font-size="5" textLength="22" lengthAdjust="spacingAndGlyphs">Wysokie Maz.</text>
<text x="297" y="385" font-size="5" textLength="15" lengthAdjust="spacingAndGlyphs">Zambrów</text>
<text x="98" y="498" font-size="5" textLength="17" lengthAdjust="spacingAndGlyphs">Sochaczew</text>
<text x="118" y="508" font-size="5" textLength="16" lengthAdjust="spacingAndGlyphs">Żyrardów</text>
<text x="177" y="529" font-size="5" textLength="13" lengthAdjust="spacingAndGlyphs">Grójec</text>
<text x="125" y="534" font-size="5" textLength="23" lengthAdjust="spacingAndGlyphs">Skierniewice</text>
<text x="110" y="490" font-size="5" textLength="13" lengthAdjust="spacingAndGlyphs">Łowicz</text>
<text x="40" y="483" font-size="5" textLength="12" lengthAdjust="spacingAndGlyphs">Kutno</text>
<text x="25" y="505" font-size="5" textLength="14" lengthAdjust="spacingAndGlyphs">Łęczyca</text>
<text x="54" y="541" font-size="5" textLength="12" lengthAdjust="spacingAndGlyphs">Zgierz</text>
<text x="60" y="574" font-size="5" textLength="16" lengthAdjust="spacingAndGlyphs">Pabianice</text>
<text x="102" y="611" font-size="5" textLength="25" lengthAdjust="spacingAndGlyphs">Piotrków Tryb.</text>
<text x="60" y="617" font-size="5" textLength="18" lengthAdjust="spacingAndGlyphs">Bełchatów</text>
<text x="128" y="580" font-size="5" textLength="25" lengthAdjust="spacingAndGlyphs">Tomaszów Maz.</text>
<text x="161" y="614" font-size="5" textLength="14" lengthAdjust="spacingAndGlyphs">Opoczno</text>
<text x="135" y="640" font-size="5" textLength="14" lengthAdjust="spacingAndGlyphs">Końskie</text>
<text x="60" y="644" font-size="5" textLength="17" lengthAdjust="spacingAndGlyphs">Radomsko</text>
<text x="97" y="671" font-size="5" textLength="20" lengthAdjust="spacingAndGlyphs">Włoszczowa</text>
<text x="133" y="698" font-size="5" textLength="17" lengthAdjust="spacingAndGlyphs">Jędrzejów</text>
<text x="187" y="735" font-size="5" textLength="20" lengthAdjust="spacingAndGlyphs">Busko-Zdrój</text>
<text x="225" y="727" font-size="5" textLength="14" lengthAdjust="spacingAndGlyphs">Staszów</text>
<text x="236" y="673" font-size="5" textLength="24" lengthAdjust="spacingAndGlyphs">Ostrowiec Św.</text>
<text x="210" y="660" font-size="5" textLength="22" lengthAdjust="spacingAndGlyphs">Starachowice</text>
<text x="239" y="633" font-size="5" textLength="10" lengthAdjust="spacingAndGlyphs">Iłża</text>
<text x="300" y="682" font-size="5" textLength="15" lengthAdjust="spacingAndGlyphs">Kraśnik</text>
<text x="282" y="600" font-size="5" textLength="14" lengthAdjust="spacingAndGlyphs">Puławy</text>
<text x="62" y="717" font-size="5" textLength="17" lengthAdjust="spacingAndGlyphs">Zawiercie</text>
<text x="90" y="740" font-size="5" textLength="12" lengthAdjust="spacingAndGlyphs">Olkusz</text>
<text x="112" y="745" font-size="5" textLength="15" lengthAdjust="spacingAndGlyphs">Miechów</text>
<text x="57" y="705" font-size="5" textLength="15" lengthAdjust="spacingAndGlyphs">Myszków</text>
<text x="52" y="770" font-size="5" textLength="17" lengthAdjust="spacingAndGlyphs">Sosnowiec</text>
<text x="30" y="790" font-size="5" textLength="11" lengthAdjust="spacingAndGlyphs">Tychy</text>
<text x="55" y="787" font-size="5" textLength="16" lengthAdjust="spacingAndGlyphs">Oświęcim</text>
<text x="85" y="816" font-size="5" textLength="16" lengthAdjust="spacingAndGlyphs">Wadowice</text>
<text x="128" y="818" font-size="5" textLength="17" lengthAdjust="spacingAndGlyphs">Myślenice</text>
<text x="160" y="801" font-size="5" textLength="13" lengthAdjust="spacingAndGlyphs">Bochnia</text>
<text x="185" y="795" font-size="5" textLength="13" lengthAdjust="spacingAndGlyphs">Brzesko</text>
<text x="216" y="770" font-size="5" textLength="24" lengthAdjust="spacingAndGlyphs">Dąbrowa Tarn.</text>
<text x="168" y="844" font-size="5" textLength="16" lengthAdjust="spacingAndGlyphs">Limanowa</text>
<text x="240" y="843" font-size="5" textLength="13" lengthAdjust="spacingAndGlyphs">Gorlice</text>
<text x="255" y="828" font-size="5" textLength="12" lengthAdjust="spacingAndGlyphs">Krosno</text>
<text x="130" y="862" font-size="5" textLength="20" lengthAdjust="spacingAndGlyphs">Rabka-Zdrój</text>
<text x="130" y="877" font-size="5" textLength="17" lengthAdjust="spacingAndGlyphs">Nowy Targ</text>
<text x="98" y="848" font-size="5" textLength="20" lengthAdjust="spacingAndGlyphs">Sucha Besk.</text>
<text x="45" y="838" font-size="5" textLength="13" lengthAdjust="spacingAndGlyphs">Żywiec</text>
<text x="8" y="820" font-size="5" textLength="13" lengthAdjust="spacingAndGlyphs">Cieszyn</text>
<text x="10" y="806" font-size="5" textLength="27" lengthAdjust="spacingAndGlyphs">Jastrzębie-Zdrój</text>
<text x="5" y="777" font-size="5" textLength="12" lengthAdjust="spacingAndGlyphs">Rybnik</text>
<text x="12" y="704" font-size="5" textLength="17" lengthAdjust="spacingAndGlyphs">Lubliniec</text>
<text x="5" y="640" font-size="5" textLength="11" lengthAdjust="spacingAndGlyphs">Kalisz</text>
<text x="30" y="600" font-size="5" textLength="13" lengthAdjust="spacingAndGlyphs">Sieradz</text>
<text x="22" y="665" font-size="5" textLength="12" lengthAdjust="spacingAndGlyphs">Wieluń</text>
<text x="20" y="520" font-size="5" textLength="9" lengthAdjust="spacingAndGlyphs">Koło</text>
<text x="5" y="540" font-size="5" textLength="11" lengthAdjust="spacingAndGlyphs">Konin</text>
<text x="125" y="454" font-size="5" textLength="12" lengthAdjust="spacingAndGlyphs">Płońsk</text>
<text x="160" y="455" font-size="5" textLength="15" lengthAdjust="spacingAndGlyphs">Nasielsk</text>
<text x="200" y="440" font-size="5" textLength="13" lengthAdjust="spacingAndGlyphs">Pułtusk</text>
<text x="163" y="474" font-size="5" textLength="25" lengthAdjust="spacingAndGlyphs">Nowy Dwór Maz.</text>
<text x="185" y="482" font-size="5" textLength="19" lengthAdjust="spacingAndGlyphs">Legionowo</text>
<text x="225" y="525" font-size="5" textLength="13" lengthAdjust="spacingAndGlyphs">Otwock</text>
<text x="193" y="525" font-size="5" textLength="17" lengthAdjust="spacingAndGlyphs">Piaseczno</text>
<text x="395" y="700" font-size="5" textLength="14" lengthAdjust="spacingAndGlyphs">Zamość</text>
<text x="420" y="678" font-size="5" textLength="20" lengthAdjust="spacingAndGlyphs">Hrubieszów</text>
<text x="370" y="670" font-size="5" textLength="19" lengthAdjust="spacingAndGlyphs">Krasnystaw</text>
<text x="357" y="634" font-size="5" textLength="14" lengthAdjust="spacingAndGlyphs">Świdnik</text>
<text x="380" y="618" font-size="5" textLength="13" lengthAdjust="spacingAndGlyphs">Łęczna</text>
<text x="330" y="726" font-size="5" textLength="14" lengthAdjust="spacingAndGlyphs">Biłgoraj</text>
<text x="315" y="713" font-size="5" textLength="18" lengthAdjust="spacingAndGlyphs">Janów Lub.</text>
<text x="290" y="735" font-size="5" textLength="22" lengthAdjust="spacingAndGlyphs">Stalowa Wola</text>
<text x="265" y="727" font-size="5" textLength="20" lengthAdjust="spacingAndGlyphs">Tarnobrzeg</text>
<text x="240" y="760" font-size="5" textLength="12" lengthAdjust="spacingAndGlyphs">Mielec</text>
<text x="330" y="262" font-size="5" textLength="16" lengthAdjust="spacingAndGlyphs">Augustów</text>
<text x="210" y="395" font-size="5" textLength="12" lengthAdjust="spacingAndGlyphs">Ostrów</text>
<text x="22" y="214" font-size="4.8" fill="#1e1e1e" textLength="18" lengthAdjust="spacingAndGlyphs">Pruszcz Gd.</text>
<text x="35" y="219" font-size="4.8" fill="#1e1e1e" textLength="14" lengthAdjust="spacingAndGlyphs">Straszyn</text>
<text x="40" y="224" font-size="4.8" fill="#1e1e1e" textLength="13" lengthAdjust="spacingAndGlyphs">Rusocin</text>
<text x="47" y="236" font-size="4.8" fill="#1e1e1e" textLength="14" lengthAdjust="spacingAndGlyphs">Koszwały</text>
<text x="56" y="231" font-size="4.8" fill="#1e1e1e" textLength="22" lengthAdjust="spacingAndGlyphs">Nowy Dwór Gd.</text>
<text x="36" y="236" font-size="4.8" fill="#1e1e1e" textLength="20" lengthAdjust="spacingAndGlyphs">Kazimierzowo</text>
<text x="90" y="246" font-size="4.8" fill="#1e1e1e" textLength="20" lengthAdjust="spacingAndGlyphs">Elbląg Wsch.</text>
<text x="106" y="258" font-size="4.8" fill="#1e1e1e" textLength="12" lengthAdjust="spacingAndGlyphs">Pasłęk</text>
<text x="78" y="252" font-size="4.8" fill="#1e1e1e" textLength="13" lengthAdjust="spacingAndGlyphs">Myślice</text>
<text x="86" y="272" font-size="4.8" fill="#1e1e1e" textLength="13" lengthAdjust="spacingAndGlyphs">Małdyty</text>
<text x="95" y="282" font-size="4.8" fill="#1e1e1e" textLength="15" lengthAdjust="spacingAndGlyphs">Miłomłyn</text>
<text x="120" y="285" font-size="4.8" fill="#1e1e1e" textLength="20" lengthAdjust="spacingAndGlyphs">Ostróda Płn.</text>
<text x="114" y="309" font-size="4.8" fill="#1e1e1e" textLength="17" lengthAdjust="spacingAndGlyphs">Olsztynek</text>
<text x="125" y="313" font-size="4.8" fill="#1e1e1e" textLength="13" lengthAdjust="spacingAndGlyphs">Zawady</text>
<text x="140" y="320" font-size="4.8" fill="#1e1e1e" textLength="14" lengthAdjust="spacingAndGlyphs">Pawłowo</text>
<text x="162" y="335" font-size="4.8" fill="#1e1e1e" textLength="20" lengthAdjust="spacingAndGlyphs">Nidzica Płn.</text>
<text x="165" y="345" font-size="4.8" fill="#1e1e1e" textLength="15" lengthAdjust="spacingAndGlyphs">Napierki</text>
<text x="163" y="362" font-size="4.8" fill="#1e1e1e" textLength="19" lengthAdjust="spacingAndGlyphs">Mława Płn.</text>
<text x="135" y="377" font-size="4.8" fill="#1e1e1e" textLength="17" lengthAdjust="spacingAndGlyphs">Strzegowo</text>
<text x="126" y="400" font-size="4.8" fill="#1e1e1e" textLength="22" lengthAdjust="spacingAndGlyphs">Płońsk Wsch.</text>
<text x="148" y="413" font-size="4.8" fill="#1e1e1e" textLength="14" lengthAdjust="spacingAndGlyphs">Załuski</text>
<text x="162" y="430" font-size="4.8" fill="#1e1e1e" textLength="20" lengthAdjust="spacingAndGlyphs">Nowe Miasto</text>
<text x="174" y="437" font-size="4.8" fill="#1e1e1e" textLength="14" lengthAdjust="spacingAndGlyphs">Czosnów</text>
<text x="170" y="446" font-size="4.8" fill="#1e1e1e" textLength="14" lengthAdjust="spacingAndGlyphs">Łomianki</text>
<text x="212" y="521" font-size="4.8" fill="#1e1e1e" textLength="18" lengthAdjust="spacingAndGlyphs">Lesznowola</text>
<text x="212" y="530" font-size="4.8" fill="#1e1e1e" textLength="13" lengthAdjust="spacingAndGlyphs">Tarczyn</text>
<text x="174" y="538" font-size="4.8" fill="#1e1e1e" textLength="18" lengthAdjust="spacingAndGlyphs">Grójec Płd.</text>
<text x="214" y="560" font-size="4.8" fill="#1e1e1e" textLength="20" lengthAdjust="spacingAndGlyphs">Białobrzegi</text>
<text x="222" y="584" font-size="4.8" fill="#1e1e1e" textLength="15" lengthAdjust="spacingAndGlyphs">Jedlińsk</text>
<text x="190" y="597" font-size="4.8" fill="#1e1e1e" textLength="20" lengthAdjust="spacingAndGlyphs">Radom Płn.</text>
<text x="200" y="604" font-size="4.8" fill="#1e1e1e" textLength="15" lengthAdjust="spacingAndGlyphs">Wolanów</text>
<text x="230" y="617" font-size="4.8" fill="#1e1e1e" textLength="17" lengthAdjust="spacingAndGlyphs">Skaryszew</text>
<text x="190" y="625" font-size="4.8" fill="#1e1e1e" textLength="17" lengthAdjust="spacingAndGlyphs">Iłża Zach.</text>
<text x="162" y="634" font-size="4.8" fill="#1e1e1e" textLength="28" lengthAdjust="spacingAndGlyphs">Szydłowiec Płd.</text>
<text x="166" y="642" font-size="4.8" fill="#1e1e1e" textLength="26" lengthAdjust="spacingAndGlyphs">Skarżysko-Kam.</text>
<text x="164" y="653" font-size="4.8" fill="#1e1e1e" textLength="19" lengthAdjust="spacingAndGlyphs">Suchedniów</text>
<text x="178" y="665" font-size="4.8" fill="#1e1e1e" textLength="14" lengthAdjust="spacingAndGlyphs">Występa</text>
<text x="163" y="678" font-size="4.8" fill="#1e1e1e" textLength="19" lengthAdjust="spacingAndGlyphs">Kielce Płn.</text>
<text x="160" y="690" font-size="4.8" fill="#1e1e1e" textLength="20" lengthAdjust="spacingAndGlyphs">Kielce Zach.</text>
<text x="181" y="693" font-size="4.8" fill="#1e1e1e" textLength="14" lengthAdjust="spacingAndGlyphs">Chęciny</text>
<text x="172" y="700" font-size="4.8" fill="#1e1e1e" textLength="26" lengthAdjust="spacingAndGlyphs">Jędrzejów Wsch.</text>
<text x="165" y="710" font-size="4.8" fill="#1e1e1e" textLength="16" lengthAdjust="spacingAndGlyphs">Wodzisław</text>
<text x="164" y="722" font-size="4.8" fill="#1e1e1e" textLength="19" lengthAdjust="spacingAndGlyphs">Książ Wielki</text>
<text x="158" y="732" font-size="4.8" fill="#1e1e1e" textLength="24" lengthAdjust="spacingAndGlyphs">Miechów Wsch.</text>
<text x="150" y="742" font-size="4.8" fill="#1e1e1e" textLength="15" lengthAdjust="spacingAndGlyphs">Słomniki</text>
<text x="150" y="758" font-size="4.8" fill="#1e1e1e" textLength="14" lengthAdjust="spacingAndGlyphs">Widoma</text>
<text x="143" y="775" font-size="4.8" fill="#1e1e1e" textLength="19" lengthAdjust="spacingAndGlyphs">Kraków Płn.</text>
<text x="142" y="782" font-size="4.8" fill="#1e1e1e" textLength="14" lengthAdjust="spacingAndGlyphs">Zielonki</text>
<text x="142" y="786" font-size="4.8" fill="#1e1e1e" textLength="24" lengthAdjust="spacingAndGlyphs">Węzeł Modlnica</text>
<text x="134" y="803" font-size="4.8" fill="#1e1e1e" textLength="26" lengthAdjust="spacingAndGlyphs">Kraków Bieżanów</text>
<text x="136" y="822" font-size="4.8" fill="#1e1e1e" textLength="23" lengthAdjust="spacingAndGlyphs">Myślenice Płn.</text>
<text x="136" y="832" font-size="4.8" fill="#1e1e1e" textLength="10" lengthAdjust="spacingAndGlyphs">Pcim</text>
<text x="134" y="838" font-size="4.8" fill="#1e1e1e" textLength="12" lengthAdjust="spacingAndGlyphs">Lubień</text>
<text x="132" y="852" font-size="4.8" fill="#1e1e1e" textLength="14" lengthAdjust="spacingAndGlyphs">Naprawa</text>
<text x="132" y="846" font-size="4.8" fill="#1e1e1e" textLength="25" lengthAdjust="spacingAndGlyphs">Skomielna Biała</text>
<text x="128" y="858" font-size="4.8" fill="#1e1e1e" textLength="15" lengthAdjust="spacingAndGlyphs">Zabornia</text>
</g>
</g>
<!-- DONUT -->
<g id="donut">
<path fill="#5d5e60" d="M575.30,219.20 A205.7,205.7 0 1 1 371.22,399.12 L473.91,412.09 A102.2,102.2 0 1 0 575.30,322.70 Z"/>
<path fill="#d1000f" d="M371.13,399.83 A205.7,205.7 0 0 1 450.25,261.58 L513.17,343.75 A102.2,102.2 0 0 0 473.86,412.44 Z"/>
<path fill="#4281d6" d="M449.65,262.04 A205.7,205.7 0 0 1 576.02,219.20 L575.66,322.70 A102.2,102.2 0 0 0 512.87,343.98 Z"/>
<text x="460.8" y="213.5" font-size="24" font-weight="bold" fill="#4281d6" textLength="83.5" lengthAdjust="spacingAndGlyphs">10,4%</text>
<text x="311" y="330" font-size="25" font-weight="bold" fill="#e2372b" textLength="80" lengthAdjust="spacingAndGlyphs">12,6%</text>
<text x="712.5" y="620" font-size="25" font-weight="bold" fill="#5d5e60" textLength="61" lengthAdjust="spacingAndGlyphs">77%</text>
</g>
<!-- BARS -->
<g id="bars">
<path fill="#5d5e60" d="M309.3,694 L798,694 Q800,694 800,696 L800,754.75 Q800,756.75 798,756.75 L286.6,756.75 Z"/>
<path fill="#d1000f" d="M309.3,769.75 L798,769.75 Q800,769.75 800,771.75 L800,830.75 Q800,832.75 798,832.75 L286.6,832.75 Z"/>
<path fill="#4281d6" d="M309.1,845 L798,845 Q800,845 800,847 L800,906 Q800,908 798,908 L286.8,908 Z"/>
<text x="332" y="734" font-size="25" font-weight="bold" fill="#fff" textLength="126" lengthAdjust="spacingAndGlyphs">577,8 km</text>
<text x="492.5" y="733.3" font-size="21.3" fill="#fff" stroke="#5d5e60" stroke-width="0.35" textLength="171" lengthAdjust="spacingAndGlyphs">w użytkowaniu</text>
<text x="351" y="809" font-size="25" font-weight="bold" fill="#fff" textLength="106" lengthAdjust="spacingAndGlyphs">94,1 km</text>
<text x="492.5" y="808.5" font-size="21.3" fill="#fff" stroke="#d1000f" stroke-width="0.35" textLength="129" lengthAdjust="spacingAndGlyphs">w realizacji</text>
<text x="321" y="884.5" font-size="25" font-weight="bold" fill="#fff" textLength="136" lengthAdjust="spacingAndGlyphs">ok. 78 km</text>
<text x="492.5" y="884" font-size="21.3" fill="#fff" stroke="#4281d6" stroke-width="0.35" textLength="195" lengthAdjust="spacingAndGlyphs">w przygotowaniu</text>
</g>
<!-- HEADER -->
<rect x="0" y="82" width="684" height="95.75" fill="#e47f22"/>
<path fill="#e47f22" d="M680,82 L686,82 Q690,82 692,85 L715,126 Q717,129 715,132 L692,174.75 Q690,177.75 686,177.75 L680,177.75 Z"/>
<text x="20.5" y="124" font-size="32" font-weight="bold" fill="#fff" textLength="360" lengthAdjust="spacingAndGlyphs">Droga ekspresowa S7</text>
<text x="21" y="160.6" font-size="24.5" fill="#fff" stroke="#e47f22" stroke-width="0.45" textLength="180" lengthAdjust="spacingAndGlyphs">sierpień 2024 r.</text>
<text x="83" y="38.4" font-size="19.5" font-weight="bold" fill="#e87f1e" textLength="191" lengthAdjust="spacingAndGlyphs">Generalna Dyrekcja</text>
<text x="82" y="62.4" font-size="19.5" font-weight="bold" fill="#e87f1e" textLength="277" lengthAdjust="spacingAndGlyphs">Dróg Krajowych i Autostrad</text>
<!-- ICONS -->
<defs>
<g id="car" fill="none" stroke-linejoin="round" stroke-linecap="round">
<path d="M8.9,45.4 L8.3,41.3 L8.5,35.8 L10.3,28.9 L13.1,24.1 L17.2,19.3 L19.9,17.6 L55,16.5 L60.5,19.3 L74.3,26.8 L89.4,30.3 L96.3,33 L101.1,37.8 L102.5,45.4 L101.1,46.1 L93.5,46.1 A10.3,10.3 0 0 0 72.9,46.1 L32.3,46.1 A10.3,10.3 0 0 0 11.7,46.1 Z"/>
<circle cx="22" cy="44" r="8"/><circle cx="22" cy="44" r="5.3"/><circle cx="22" cy="44" r="1.2"/>
<circle cx="83.2" cy="44" r="8"/><circle cx="83.2" cy="44" r="5.3"/><circle cx="83.2" cy="44" r="1.2"/>
<path d="M19.9,25.4 L25.4,19.9 L45.4,19.3 L47.5,27.5 L24.1,26.8 Z M48.8,19.3 L57.8,19.9 L68.8,25.4 L69.5,28.9 L50.2,29.6 Z M45.4,17.2 L51.6,46.1 M16.5,17.2 L55,15.1 M26.8,15.1 L28.2,11 L34.4,10.3 L36.5,14.4 M37.1,13.8 L39.2,8.9 L48.1,8.5 L50.2,13.8 M92.2,33 L99,35.1 L99.7,37.8 L94.9,37.1 Z M68,26 L70.8,25.5 L70.8,30 L68,30 M10,31 L13,31 L13,34 L10,34"/>
</g>
<g id="exc" fill="none" stroke-linejoin="round" stroke-linecap="round">
<path d="M19,42.7 L9.2,34.1 L9.8,31.5 L25.6,5.9 L28.9,5.9 L45.3,23 M13.8,33.5 L26.9,11.2 L38.7,24.5 M13.8,33.5 L21.7,39.4"/>
<path d="M18.5,38.5 Q23,34.5 30,35.5 Q33,41.5 29.5,46 Q23,49.5 18.5,44.5 Z M20,39.5 L30,39"/>
<path d="M38.7,45.3 L38.7,28 L42.5,23 L59.7,23 L59.7,45.3 Z M42.7,28.2 L45.9,25.6 L57.1,25.6 L57.1,38 L43.3,39.4 Z"/>
<path d="M59.7,32.8 L74.1,32.8 L74.1,45.3 L59.7,45.3 M61.7,35.4 L72.8,35.4 M61.7,37.4 L72.8,37.4 M61.7,39.4 L72.8,39.4 M61.7,41.3 L72.8,41.3 M61.7,43.3 L72.8,43.3 M64.3,32.8 L64.3,25.6 L67.6,23.6 L68.9,25.6 L68.2,32.8"/>
<rect x="37.4" y="46.6" width="38.1" height="9.2" rx="4.6"/>
<path d="M44.6,51.2 h0.1 M48.5,51.2 h0.1 M52.5,51.2 h0.1 M56.4,51.2 h0.1 M60.4,51.2 h0.1 M64.3,51.2 h0.1 M68.2,51.2 h0.1" stroke-width="1.8"/>
<circle cx="74.8" cy="21" r="2.6"/><circle cx="79.5" cy="19.3" r="2.9"/><circle cx="86.3" cy="14.6" r="3.9"/><circle cx="92.5" cy="10.5" r="5"/>
</g>
<g id="ref" fill="none" stroke-linejoin="round">
<path d="M526.7,298.7 C519,298.5 505,294 504.3,277.5 C504.2,272 505.5,268 507.5,265.5 L504.5,258 Q504.3,256.4 506,256.4 L521,256.4 Q523,256.6 522.4,258.5 L517,273.2 Q515.5,275 513.5,272.5 L512.5,271.8 C510.5,275 509.8,279 509.8,282 C510,289 516,293.2 525.5,293.4 A2.7,2.7 0 0 1 526.7,298.7 Z"/>
<path transform="rotate(180 528.7 277.6)" d="M526.7,298.7 C519,298.5 505,294 504.3,277.5 C504.2,272 505.5,268 507.5,265.5 L504.5,258 Q504.3,256.4 506,256.4 L521,256.4 Q523,256.6 522.4,258.5 L517,273.2 Q515.5,275 513.5,272.5 L512.5,271.8 C510.5,275 509.8,279 509.8,282 C510,289 516,293.2 525.5,293.4 A2.7,2.7 0 0 1 526.7,298.7 Z"/>
</g>
</defs>
<use href="#car" transform="translate(636.1,506.6) scale(0.824)" stroke="#e2e2e2" stroke-width="1.15"/>
<use href="#car" transform="translate(685,695)" stroke="#e2e2e2" stroke-width="0.95"/>
<use href="#exc" transform="translate(390.5,321) scale(0.97)" stroke="#f7c4c6" stroke-width="1.05"/>
<use href="#exc" transform="translate(690,770)" stroke="#f7c4c6" stroke-width="1"/>
<use href="#ref" stroke="#c3d8f4" stroke-width="1.1"/>
<use href="#ref" transform="translate(763.1,876.5) scale(1.02) translate(-528.7,-277.6)" stroke="#c3d8f4" stroke-width="1.05"/>
<!-- PRESENTATION ICON -->
<g id="pres">
<circle cx="625.4" cy="127.5" r="57.2" fill="#52b5c9"/>
<path fill="#e96a5f" d="M625.7,64 L665.5,104 L587,104 Z M625.7,75.5 L605.5,96 L646.5,96 Z" fill-rule="evenodd"/>
<g stroke="#fff" stroke-width="0.8" opacity="0.85">
<path d="M590.5,100.5 L592.2,102.2 M595.5,95.5 L597.2,97.2 M600.5,90.5 L602.2,92.2 M605.5,85.5 L607.2,87.2 M610.5,80.5 L612.2,82.2 M615.5,75.5 L617.2,77.2 M620.5,70.5 L622.2,72.2"/>
<path d="M660.9,100.5 L659.2,102.2 M655.9,95.5 L654.2,97.2 M650.9,90.5 L649.2,92.2 M645.9,85.5 L644.2,87.2 M640.9,80.5 L639.2,82.2 M635.9,75.5 L634.2,77.2 M630.9,70.5 L629.2,72.2"/>
</g>
<rect x="590.5" y="117" width="70.5" height="41.5" fill="#f4f4f4"/>
<rect x="587.2" y="111.7" width="76.8" height="5.5" fill="#3a5670"/>
<rect x="587.2" y="158.2" width="76.8" height="5" fill="#3a5670"/>
<clipPath id="pc"><circle cx="625.4" cy="127.5" r="57.2"/></clipPath><path clip-path="url(#pc)" fill="#3a5670" d="M622,163 L629.5,163 L629.5,190 L622,190 Z M606.5,163 L613.5,163 L603,190 L596,188 Z M638,163 L645,163 L655,188 L648,190 Z"/>
<path fill="#52b5c9" d="M633.5,124 A11.2,11.2 0 1 0 643.7,142.5 L633.5,135 Z"/>
<path fill="#e96a5f" d="M637.2,122.5 A11.2,11.2 0 0 1 647.5,140 L637.2,133 Z"/>
<g fill="none" stroke="#e8a948" stroke-width="1.8">
<path d="M601,144.8 L609.8,140 M614.8,140.5 L622.3,146.5 M626.5,146 L630,142.5"/>
<circle cx="612.3" cy="138.8" r="2.6"/>
<circle cx="624.3" cy="148.3" r="2.6"/>
</g>
</g>
<!-- LOGO -->
<g id="logo" fill="#f07d00">
<path d="M17.2,36.8 C19,33.5 22,31.2 30,30.4 C36,30 42,30.5 45,32 C47.5,33.5 47.2,36 46.5,38 L43.6,46 C41.5,52 40.8,57 40.4,61.6 L18.8,66 C21,60 24,55 26,51.6 L34,37.4 C28,37 22,37 17.2,36.8 Z"/>
<path d="M30.8,28 C32,26 34,25 40,24 C46,23.3 52,24 56,26 C60,28.5 62.5,32 63.4,38 C64.5,46 64.8,54 65.2,61.6 L46,66 C46.5,58 47,48 47.6,42 C48,37 49.5,34 48.8,31.5 C48,29.5 46,28.4 44,28.2 C41,28 38,29.2 36,28.5 C34,28 32,28 30.8,28 Z"/>
</g>
<!-- ARROW -->
<rect x="28" y="952" width="745" height="4" fill="#e47f22"/>
<path fill="#e47f22" d="M18,954 L30,944 L30,963 Z M783,954 L771,944 L771,963 Z"/>
<text x="210" y="944" font-size="18" font-weight="bold" fill="#58595b" textLength="381" lengthAdjust="spacingAndGlyphs">Docelowa długość drogi ekspresowej S7</text>
<text x="347.5" y="981" font-size="18" font-weight="bold" fill="#58595b" textLength="105" lengthAdjust="spacingAndGlyphs">ok. 750 km</text>
</svg>
</body></html>
